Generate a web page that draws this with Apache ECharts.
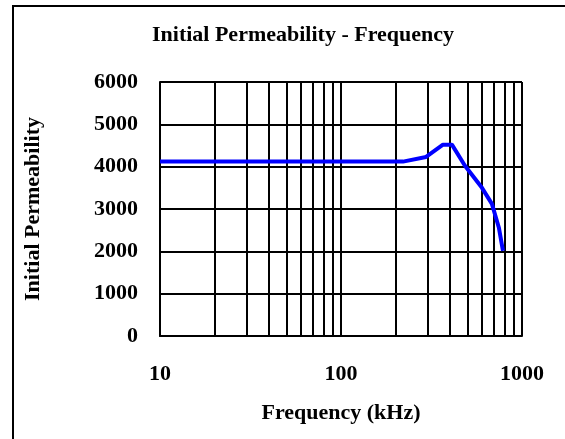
<!DOCTYPE html>
<html>
<head>
<meta charset="utf-8">
<script src="https://cdn.jsdelivr.net/npm/echarts@6/dist/echarts.min.js"></script>
<style>
  html, body { margin: 0; padding: 0; background: #fff; }
  #frame { position: absolute; left: 12px; top: 5px; width: 560px; height: 440px;
           border-left: 2px solid #000; border-top: 2px solid #000; }
  #chart { position: absolute; left: 0; top: 0; width: 565px; height: 439px; }
</style>
</head>
<body>
<div id="frame"></div>
<div id="chart"></div>
<script>
// frequency (kHz) and initial permeability
const freq = [10, 220, 295, 366, 410, 484, 601, 682, 746, 785]
const perm = [4120, 4120, 4230, 4520, 4520, 4020, 3500, 3120, 2550, 2010]
// extra vertical grid lines of the log axis
const minorLines = [20, 30, 40, 50, 60, 70, 80, 90, 200, 300, 400, 500, 600, 700, 800, 900]
const yTicks = [0, 1000, 2000, 3000, 4000, 5000, 6000]

const font = '"Liberation Serif", "Times New Roman", serif'
const chart = echarts.init(document.getElementById('chart'))

chart.setOption({
  backgroundColor: 'transparent',
  animation: false,
  title: {
    text: 'Initial Permeability - Frequency',
    left: 298,
    top: 19,
    textAlign: 'center',
    textStyle: { fontFamily: font, fontWeight: 'bold', fontSize: 22, color: '#000' }
  },
  grid: { left: 160, right: 43, top: 82, bottom: 103 },
  xAxis: {
    type: 'log',
    logBase: 10,
    min: 10,
    max: 1000,
    name: 'Frequency (kHz)',
    nameLocation: 'middle',
    nameGap: 66,
    nameTextStyle: { fontFamily: font, fontWeight: 'bold', fontSize: 22, color: '#000' },
    axisLine: { show: true, lineStyle: { color: '#000', width: 2 } },
    axisTick: { show: false },
    axisLabel: { margin: 27, fontFamily: font, fontWeight: 'bold', fontSize: 22, color: '#000', formatter: v => String(v) },
    splitLine: { show: true, lineStyle: { color: '#000', width: 2 } }
  },
  yAxis: {
    type: 'value',
    min: yTicks[0],
    max: yTicks[yTicks.length - 1],
    interval: 1000,
    name: 'Initial Permeability',
    nameLocation: 'middle',
    nameGap: 116,
    nameTextStyle: { fontFamily: font, fontWeight: 'bold', fontSize: 22, color: '#000' },
    axisLine: { show: true, lineStyle: { color: '#000', width: 2 } },
    axisTick: { show: false },
    axisLabel: { margin: 22, fontFamily: font, fontWeight: 'bold', fontSize: 22, color: '#000', formatter: v => String(v) },
    splitLine: { show: true, lineStyle: { color: '#000', width: 2 } }
  },
  series: [
    {
      type: 'line',
      data: freq.map((f, i) => [f, perm[i]]),
      showSymbol: false,
      symbol: 'none',
      lineStyle: { color: '#0000ff', width: 4 },
      z: 5,
      markLine: {
        silent: true,
        symbol: 'none',
        label: { show: false },
        lineStyle: { color: '#000', width: 2, type: 'solid' },
        data: minorLines.map(v => ({ xAxis: v }))
      }
    }
  ]
})
</script>
</body>
</html>
